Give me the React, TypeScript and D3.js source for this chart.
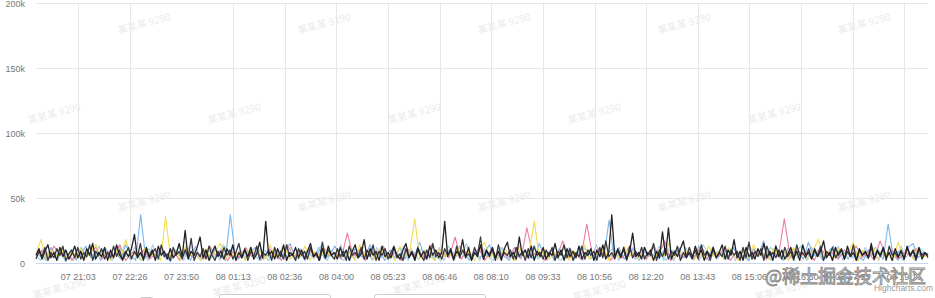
import React from "react";
import * as d3 from "d3";

// ---------- data (values in thousands) ----------
const seriesBlack = [
  6,11,3,9,14,4,8,2,12,5, 10,3,7,13,4,9,2,11,6,15, 3,8,5,12,2,10,4,14,6,3,
  9,5,11,22,4,8,3,12,5,10, 2,13,6,9,3,11,4,7,15,5, 25,3,9,6,12,20,4,10,2,8,
  13,5,9,3,11,6,14,2,8,4, 10,5,12,3,7,16,4,32,6,9, 3,11,5,14,2,8,6,12,4,10,
  3,9,15,5,7,2,11,4,13,6, 8,3,12,5,10,2,9,14,4,7, 18,3,11,6,9,2,13,5,8,4,
  12,6,3,10,15,4,8,2,11,5, 9,3,13,6,10,4,8,32,5,11, 3,9,6,18,4,12,2,8,5,14,
  3,10,6,12,4,9,2,11,16,5, 8,3,20,6,10,4,13,2,9,5, 12,3,8,6,15,4,10,2,11,5,
  9,4,13,3,8,6,11,2,10,5, 14,3,8,37,5,10,4,12,3,9, 23,5,8,3,12,6,10,2,9,4,
  24,6,27,3,9,5,11,17,4,8, 3,13,6,10,2,9,5,12,4,8, 14,3,10,6,18,4,9,2,12,5,
  8,3,11,6,15,4,9,2,13,5, 10,3,7,12,4,9,2,14,6,8, 3,11,5,9,17,4,8,2,12,6,
  10,3,13,5,8,2,11,6,9,4, 15,3,10,6,12,4,8,2,11,5, 9,3,13,6,10,4,12,3,8,6,
];
const seriesDark = [
  3,9,5,12,2,8,4,11,6,13, 2,7,10,4,12,3,8,5,14,2, 9,6,11,3,8,4,13,5,10,2,
  7,12,3,9,5,15,2,10,4,8, 11,3,14,5,7,2,12,6,9,3, 10,4,19,2,8,5,11,3,13,6,
  2,9,4,12,6,10,3,8,15,4, 11,2,9,5,13,3,8,6,10,2, 12,4,9,3,14,5,7,2,11,6,
  9,3,12,5,8,2,16,4,10,6, 3,11,5,9,2,13,6,8,4,12, 3,10,5,14,2,9,6,11,3,8,
  13,4,7,2,11,5,9,3,12,6, 2,10,4,15,5,8,3,11,6,9, 2,13,4,10,5,7,3,12,6,20,
  3,9,5,11,2,14,4,8,6,10, 3,12,5,9,2,11,4,13,6,8, 3,10,5,12,2,9,6,14,4,11,
  2,8,5,13,3,10,6,9,2,12, 4,17,5,8,3,11,6,10,2,13, 4,9,5,12,3,8,6,15,2,10,
  5,11,3,9,6,13,2,8,4,12, 5,10,3,14,6,9,2,11,4,8, 5,13,3,10,6,9,2,12,4,16,
  3,9,5,11,2,13,6,8,4,10, 3,12,5,9,2,14,6,8,4,11, 3,10,5,13,2,9,6,12,4,8,
  11,3,9,5,14,2,10,6,8,4, 12,3,9,5,11,2,13,6,8,4, 10,3,12,5,9,2,11,6,8,4,
];
const seriesBlue = [
  4,9,2,12,5,8,1,10,3,7, 13,4,9,2,11,5,8,3,14,6, 2,37,4,9,3,12,6,1,10,5,
  8,2,13,4,9,3,11,6,2,37, 5,10,3,8,12,2,7,4,11,3, 9,15,4,8,2,12,5,10,3,7,
  13,4,9,2,11,6,3,14,5,8, 2,10,4,12,3,9,6,16,4,8, 2,11,5,9,3,13,6,2,10,4,
  8,14,3,9,5,2,12,4,10,6, 3,15,5,9,2,11,4,8,3,13, 6,10,2,9,5,33,4,12,3,8,
  11,2,9,5,14,3,10,6,2,12, 4,9,3,13,6,2,10,5,8,3, 12,4,9,2,11,6,17,3,8,5,
  2,12,4,9,3,16,5,10,2,8, 13,4,9,3,11,5,2,10,6,8, 3,30,5,9,2,12,15,4,8,6,
];
const seriesSky = [
  6,2,10,4,8,3,12,5,9,2, 11,4,7,3,13,6,9,2,10,5, 8,3,12,4,9,2,14,5,7,3,
  11,6,9,2,12,4,8,3,10,5, 13,2,9,6,11,3,8,4,12,5, 2,10,6,9,3,13,4,8,2,11,
  5,9,3,12,6,2,10,4,14,5, 8,3,11,6,9,2,12,4,8,3, 10,5,13,2,9,6,11,3,8,4,
  12,2,10,5,9,3,15,6,8,2, 11,4,9,3,12,5,8,2,10,6, 3,13,4,9,2,11,5,8,3,12,
  6,9,2,10,4,14,5,8,3,11, 2,9,6,12,3,10,4,8,5,13, 2,11,6,9,3,12,4,8,2,10,
  5,13,3,9,6,11,2,8,4,12, 3,10,5,9,2,14,6,8,3,11, 4,9,2,12,5,10,3,8,6,13,
  2,11,4,9,3,12,5,8,2,10, 6,9,3,13,4,8,2,11,5,7,
];
const seriesYellow = [
  7,18,3,10,5,12,2,8,4,11, 3,9,14,5,8,2,10,4,18,6, 9,3,12,5,8,2,36,4,10,3,
  13,6,8,2,11,4,9,15,3,7, 5,10,2,12,6,9,3,14,4,8, 11,3,7,5,13,2,9,4,10,6,
  3,12,5,8,2,14,6,9,3,11, 4,8,2,13,5,9,34,3,10,6, 2,11,5,8,3,12,6,9,2,10,
  16,4,8,3,11,6,2,13,5,9, 32,4,10,3,8,6,12,2,9,5, 14,3,8,6,11,2,9,4,13,5,
  8,3,12,6,2,10,5,15,3,9, 6,11,2,8,4,13,5,9,3,12, 6,2,10,4,14,5,8,3,11,6,
  9,2,12,5,8,3,10,18,4,9, 3,11,6,8,16,2,10,5,12,3, 9,6,2,16,5,10,3,12,4,8,
];
const seriesPink = [
  5,10,3,13,6,9,2,11,4,8, 12,3,9,5,14,2,8,6,10,3, 7,12,4,9,2,11,5,8,3,13,
  6,10,2,9,4,12,5,8,3,11, 6,2,14,5,9,3,10,4,12,6, 8,3,23,5,10,2,9,6,13,4,
  8,2,11,5,9,3,14,6,8,4, 20,3,9,6,11,2,10,5,8,4, 12,3,27,6,9,2,10,5,17,4,
  8,3,30,5,11,6,2,9,4,12, 5,8,3,13,6,17,2,10,4,9, 5,12,3,8,6,11,2,9,4,14,
  6,10,3,8,5,34,4,11,6,9, 2,12,5,8,3,10,6,13,4,9, 2,17,5,10,3,8,6,11,4,7,
];
const seriesTeal = [
  8,3,11,5,9,2,12,6,4,10, 3,13,5,8,2,11,6,9,3,12, 5,8,2,10,4,14,6,3,9,5,
  11,2,8,6,12,3,9,4,13,5, 7,2,10,6,9,3,12,4,8,5, 11,3,9,6,2,13,5,8,3,10,
  6,2,12,4,9,5,11,3,8,6, 2,10,5,13,3,9,6,11,4,8, 3,12,5,9,2,10,6,8,4,14,
  5,9,3,11,6,2,10,4,12,5, 8,3,13,6,9,2,11,5,8,4, 10,3,12,6,9,2,8,5,11,6,
];

const seriesList = [
  { name: "teal", values: seriesTeal, color: "#9fd3d4", width: 1.1 },
  { name: "sky", values: seriesSky, color: "#a9c9ec", width: 1.1 },
  { name: "blue", values: seriesBlue, color: "#7cb5ec", width: 1.1 },
  { name: "pink", values: seriesPink, color: "#f07c9b", width: 1.1 },
  { name: "yellow", values: seriesYellow, color: "#f3dc4c", width: 1.1 },
  { name: "dark", values: seriesDark, color: "#3a3a40", width: 1.3 },
  { name: "black", values: seriesBlack, color: "#222226", width: 1.3 },
];

const xTickLabels = [
  "07 21:03", "07 22:26", "07 23:50", "08 01:13", "08 02:36", "08 04:00",
  "08 05:23", "08 06:46", "08 08:10", "08 09:33", "08 10:56", "08 12:20",
  "08 13:43", "08 15:06", "08 16:30", "08 17:53", "08 19:16",
];
const yTickValues = [0, 50, 100, 150, 200];
const yTickLabels = ["0", "50k", "100k", "150k", "200k"];

const watermarkText = "某某某 9290";
const watermarkSpots = [
  [145, 27], [325, 27], [505, 27], [685, 27], [865, 27],
  [55, 117], [235, 117], [415, 117], [595, 117], [775, 117],
  [145, 205], [325, 205], [505, 205], [685, 205], [865, 205],
  [60, 292], [240, 290], [420, 288], [600, 294], [782, 294],
];

// ---------- layout ----------
const W = 935;
const H = 298;
const left = 36;
const right = 928;
const top = 3;
const bottom = 263;

const startTime = new Date(2023, 0, 7, 19, 55, 0);
const endTime = new Date(2023, 0, 8, 19, 55, 0);
const firstTick = new Date(2023, 0, 7, 21, 3, 20);
const tickStepMs = 5000 * 1000;
const hiddenGrid = new Set([2]);

export default function App() {
  const x = d3.scaleTime().domain([startTime, endTime]).range([left, right]);
  const y = d3.scaleLinear().domain([0, 200]).range([bottom, top]);
  const span = endTime.getTime() - startTime.getTime();

  const line = d3
    .line<[Date, number]>()
    .x((d) => x(d[0]))
    .y((d) => y(d[1]));

  const paths = seriesList.map((s) => {
    const n = s.values.length;
    const pts: [Date, number][] = s.values.map((v, i) => [
      new Date(startTime.getTime() + (i * span) / (n - 1)),
      v,
    ]);
    return { ...s, d: line(pts) || "" };
  });

  const ticks = xTickLabels.map((label, k) => ({
    label,
    pos: x(new Date(firstTick.getTime() + k * tickStepMs)),
    k,
  }));

  return (
    <svg
      width={W}
      height={H}
      style={{ position: "absolute", left: 0, top: 0, background: "#fff" }}
      fontFamily="'Liberation Sans', Arial, sans-serif"
    >
      <rect x={0} y={0} width={W} height={H} fill="#fff" />
      {yTickValues.map((v) => (
        <line key={"gy" + v} x1={left} x2={right} y1={Math.round(y(v)) + 0.5} y2={Math.round(y(v)) + 0.5} stroke="#e6e6e6" />
      ))}
      {ticks
        .filter((t) => !hiddenGrid.has(t.k))
        .map((t) => (
          <line key={"gx" + t.k} x1={Math.round(t.pos) + 0.5} x2={Math.round(t.pos) + 0.5} y1={top} y2={bottom} stroke="#e6e6e6" />
        ))}
      {watermarkSpots.map(([cx, cy], i) => (
        <text
          key={"wm" + i}
          x={cx}
          y={cy}
          textAnchor="middle"
          fontSize={10}
          fontFamily="'Noto Sans CJK SC', sans-serif"
          fill="#ebebeb"
          transform={`rotate(-15 ${cx} ${cy})`}
        >
          {watermarkText}
        </text>
      ))}
      {paths.map((p) => (
        <path key={p.name} d={p.d} fill="none" stroke={p.color} strokeWidth={p.width} strokeLinejoin="round" />
      ))}
      <line x1={left} x2={right} y1={bottom + 0.5} y2={bottom + 0.5} stroke="#ccd6eb" />
      {yTickValues.map((v, i) => (
        <text key={"yl" + v} x={left - 11} y={y(v) + 4} textAnchor="end" fontSize={9} fill="#777">
          {yTickLabels[i]}
        </text>
      ))}
      {ticks.map((t) => (
        <text key={"xl" + t.k} x={t.pos} y={279.5} textAnchor="middle" fontSize={9} fill="#777">
          {t.label}
        </text>
      ))}
      <rect x={140.5} y={297.5} width={12} height={10} rx={1} fill="#fff" stroke="#ccc" />
      <rect x={219.5} y={294.5} width={111} height={14} rx={2} fill="#fff" stroke="#ccc" />
      <rect x={374.5} y={294.5} width={111} height={14} rx={2} fill="#fff" stroke="#ccc" />
      <text x={933} y={291} textAnchor="end" fontSize={8.5} fill="#999">Highcharts.com</text>
      <text
        x={765}
        y={283}
        fontSize={18}
        fontFamily="'Noto Sans CJK SC', sans-serif"
        fill="rgba(255,255,255,0.9)"
        stroke="#8a8a8a"
        strokeWidth={0.9}
      >
        @稀土掘金技术社区
      </text>
    </svg>
  );
}
